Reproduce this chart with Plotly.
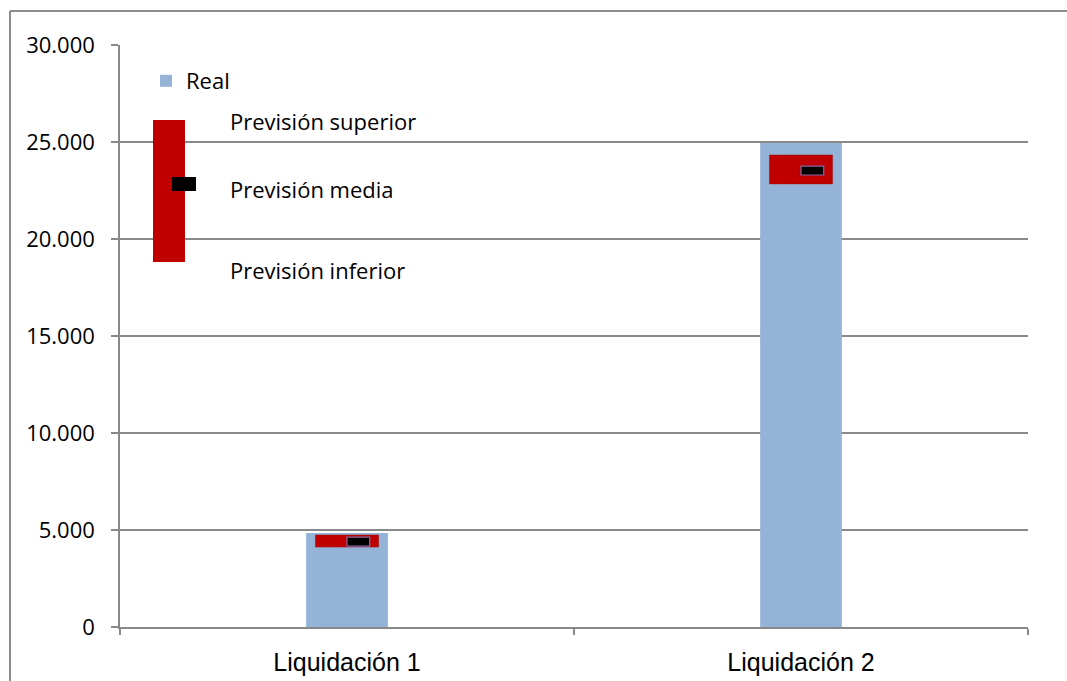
import plotly.graph_objects as go

# ---- data ----
categories = ["Liquidación 1", "Liquidación 2"]
real = [4840, 24950]
prev_inferior = [4120, 22840]
prev_superior = [4740, 24330]
prev_media = [4400, 23530]
y_ticks = [0, 5000, 10000, 15000, 20000, 25000, 30000]

# ---- style constants ----
BLUE = "#95B3D7"
RED = "#C00000"
GRID = "#898989"
MEAN_HALF = 230  # half thickness of the mean marker (value units)

W, H = 1067, 681
PL, PR, PT, PB = 120, 1028, 45, 627          # plot area in screen px
L, T, R, B = PL, PT, W - PR, H - PB
PW, PH = PR - PL, PB - PT


def px(x):
    return (x - PL) / PW


def py(y):
    return (PB - y) / PH


fig = go.Figure()
fig.add_bar(x=categories, y=real, name="Real", marker=dict(color=BLUE, line=dict(width=0)),
            width=0.18, showlegend=True)
fig.add_bar(x=categories, y=[s - i for s, i in zip(prev_superior, prev_inferior)],
            base=prev_inferior, marker=dict(color=RED, line=dict(color="#9a1010", width=0.5)),
            width=0.139, showlegend=False, name="Previsión")
fig.add_bar(x=categories, y=[2 * MEAN_HALF for _ in prev_media],
            base=[m - MEAN_HALF for m in prev_media],
            marker=dict(color="black", line=dict(color="#7F6AA8", width=1.2)),
            width=0.05, offset=0, showlegend=False, name="Previsión media")

shapes = [
    # outer chart frame (left and top edges; the rest lies outside the picture)
    dict(type="line", xref="paper", yref="paper", x0=px(10), x1=px(10), y0=py(11), y1=py(720),
         line=dict(color="#8C8C8C", width=2), layer="below"),
    dict(type="line", xref="paper", yref="paper", x0=px(10), x1=px(1100), y0=py(11), y1=py(11),
         line=dict(color="#8C8C8C", width=2), layer="below"),
    # legend graphic for the forecast range
    dict(type="rect", xref="paper", yref="paper", x0=px(153), x1=px(185), y0=py(262), y1=py(120),
         fillcolor=RED, line=dict(width=0)),
    dict(type="rect", xref="paper", yref="paper", x0=px(172), x1=px(196), y0=py(191), y1=py(177),
         fillcolor="black", line=dict(width=0)),
]

annotations = []
for txt, yy in [("Previsión superior", 121), ("Previsión media", 189), ("Previsión inferior", 270)]:
    annotations.append(dict(text=txt, xref="paper", yref="paper", x=px(228), y=py(yy),
                            xanchor="left", yanchor="middle", showarrow=False,
                            font=dict(family="Open Sans", size=22, color="black")))

fig.update_layout(
    width=W, height=H,
    margin=dict(l=L, r=R, t=T, b=B, autoexpand=False),
    paper_bgcolor="white", plot_bgcolor="white",
    barmode="overlay",
    separators=",.",
    shapes=shapes,
    annotations=annotations,
    showlegend=True,
    legend=dict(x=px(146), y=py(60), xanchor="left", yanchor="top",
                font=dict(family="Open Sans", size=22, color="black"),
                bgcolor="rgba(0,0,0,0)", borderwidth=0),
    xaxis=dict(type="category", range=[-0.5, 1.5], showline=True, linecolor=GRID, linewidth=1.5,
               ticks="outside", ticklen=6, tickcolor=GRID, tickwidth=1.5, tickson="boundaries",
               showgrid=False, tickfont=dict(family="Liberation Sans", size=25, color="black"),
               ticklabelstandoff=12, automargin=False),
    yaxis=dict(range=[0, 30000], tickvals=y_ticks, tickformat=",d", showline=True,
               linecolor=GRID, linewidth=1.5, ticks="outside", ticklen=7, tickcolor=GRID,
               tickwidth=1.5, showgrid=True, gridcolor=GRID, gridwidth=1.5, zeroline=False,
               tickfont=dict(family="Open Sans", size=22, color="black"), ticklabelstandoff=12,
               automargin=False),
)

fig.write_html(
    "out.html",
    config={"displayModeBar": False},
    post_script="document.body.style.margin='0';document.body.style.overflow='hidden';",
)
